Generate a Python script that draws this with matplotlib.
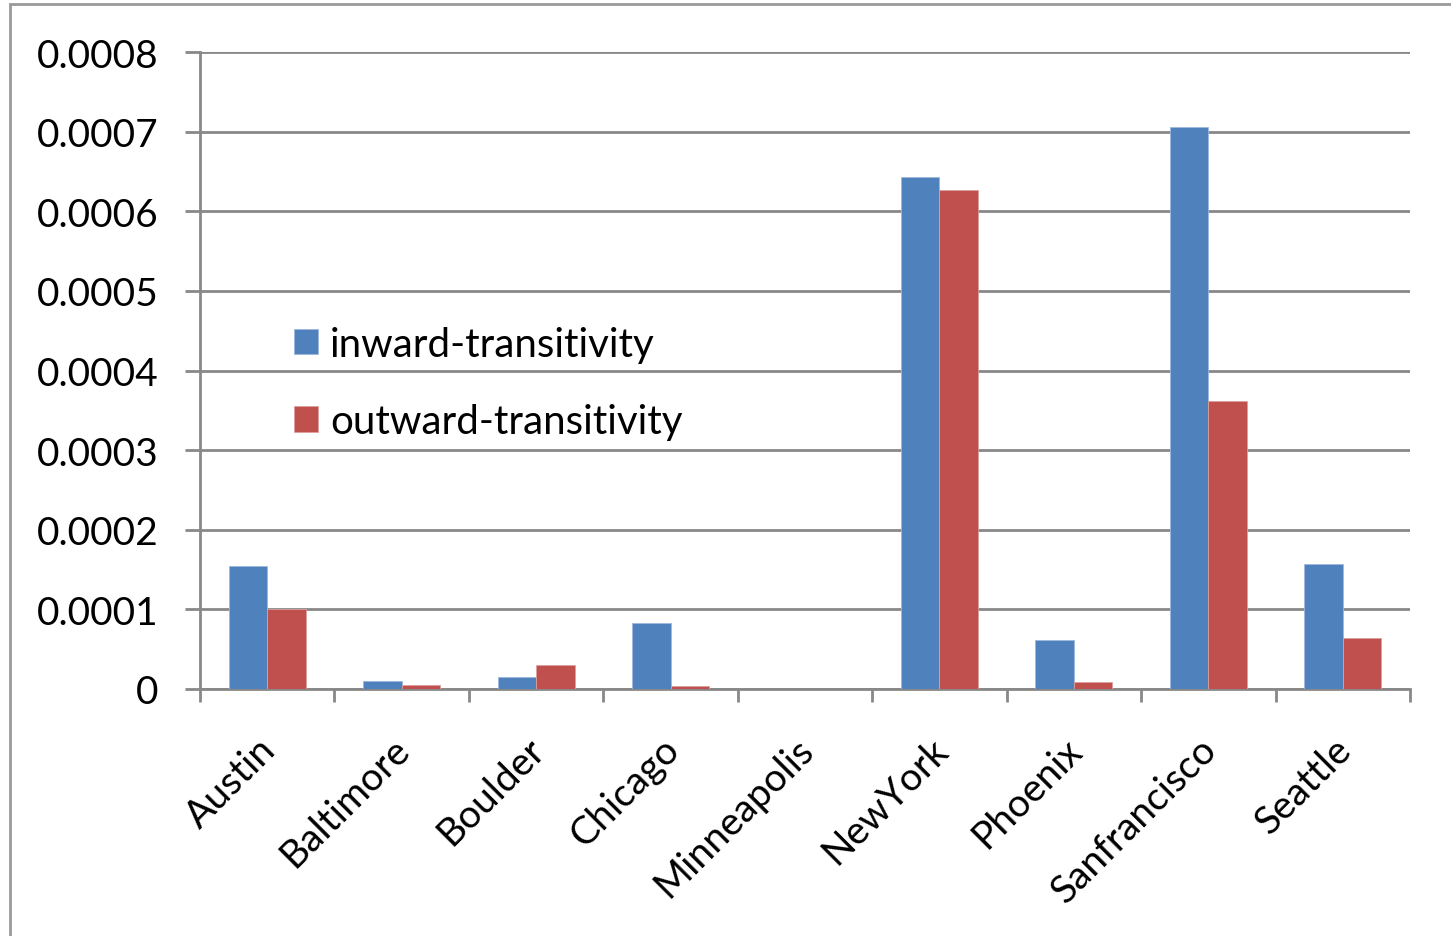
import matplotlib
matplotlib.use("Agg")
import matplotlib.pyplot as plt
import matplotlib.transforms as mtransforms
import numpy as np

# -- 데이터 --
cities = ["Austin", "Baltimore", "Boulder", "Chicago", "Minneapolis",
          "NewYork", "Phoenix", "Sanfrancisco", "Seattle"]
inward = [0.000155, 0.000010, 0.000015, 0.000083, 0.0,
          0.000643, 0.000061, 0.000706, 0.000157]
outward = [0.000100, 0.000005, 0.000030, 0.000004, 0.0,
           0.000627, 0.000009, 0.000362, 0.000064]
y_ticks = [0, 0.0001, 0.0002, 0.0003, 0.0004, 0.0005, 0.0006, 0.0007, 0.0008]
y_labels = ["0", "0.0001", "0.0002", "0.0003", "0.0004",
            "0.0005", "0.0006", "0.0007", "0.0008"]

BLUE = "#4F81BD"
RED = "#C0504D"
GRID = "#888888"
FS = 28

plt.rcParams["font.family"] = ["Lato", "DejaVu Sans"]

W, H = 1451, 937
fig = plt.figure(figsize=(W / 100, H / 100), dpi=100)
ax = fig.add_axes([200 / W, 1 - 690 / H, 1210 / W, 637 / H])

# 바깥 테두리 (엑셀 차트 영역)
fig.patches.append(plt.Rectangle((10 / W, -0.1), 1.2, 1 - 5 / H + 0.1,
                                 transform=fig.transFigure, fill=False,
                                 edgecolor="#999999", linewidth=2))

x = np.arange(len(cities))
bw = 0.287
ax.bar(x - bw / 2, inward, bw, color=BLUE, edgecolor="#9DB9DC", linewidth=0.6,
       label="inward-transitivity", zorder=3)
ax.bar(x + bw / 2, outward, bw, color=RED, edgecolor="#DCA09E", linewidth=0.6,
       label="outward-transitivity", zorder=3)

ax.set_xlim(-0.5, len(cities) - 0.5)
ax.set_ylim(0, 0.0008)

# y축
ax.set_yticks(y_ticks)
ax.set_yticklabels(y_labels, fontsize=FS)
ax.yaxis.grid(True, color=GRID, linewidth=2.0, zorder=0)
ax.tick_params(axis="y", length=11, width=2.0, color=GRID, pad=19)

# x축: 경계에 눈금, 가운데에 라벨
ax.set_xticks(np.arange(-0.5, len(cities), 1.0))
ax.set_xticklabels([])
ax.tick_params(axis="x", which="major", length=9, width=2.0, color=GRID)
ax.set_xticks(x, minor=True)
ax.set_xticklabels(cities, minor=True, fontsize=FS, rotation=45,
                   ha="right", va="top", rotation_mode="anchor")
ax.tick_params(axis="x", which="minor", length=0, pad=30)
shift = mtransforms.ScaledTranslation(-10 / 100, 0, fig.dpi_scale_trans)
for lbl in ax.get_xticklabels(minor=True):
    lbl.set_transform(lbl.get_transform() + shift)

for side in ["top", "right"]:
    ax.spines[side].set_visible(False)
for side in ["left", "bottom"]:
    ax.spines[side].set_color(GRID)
    ax.spines[side].set_linewidth(2.0)
ax.set_axisbelow(True)

leg = ax.legend(loc="upper left", bbox_to_anchor=(0.048, 0.627), frameon=False,
                fontsize=FS + 1, handlelength=0.6, handleheight=0.6,
                handletextpad=0.28, labelspacing=1.0)

fig.savefig("out.png", dpi=100)
